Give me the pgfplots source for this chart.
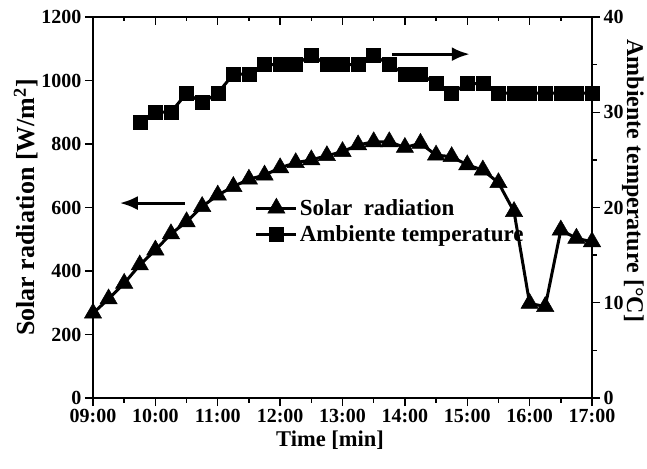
\documentclass[border=0pt]{standalone}
\usepackage{fontspec}
\setmainfont{Liberation Serif}
\usepackage{pgfplots}
\pgfplotsset{compat=1.18}
\usetikzlibrary{arrows.meta}

\pgfplotsset{
  common/.style={
    scale only axis, width=499pt, height=381pt,
    at={(0,0)}, anchor=south west,
    xmin=9, xmax=17,
    major tick length=8pt, minor tick length=4.5pt,
    every tick/.style={black, line width=1.4pt},
    axis line style={line width=1.5pt},
    tick label style={font=\fontsize{20}{22}\selectfont\bfseries},
    /pgf/number format/assume math mode=true,
    /pgf/number format/1000 sep={},
    clip=false,
  },
  solar/.style={black, line width=3pt, mark=triangle*, mark size=10pt, mark options={solid, line width=0.5pt}},
  temp/.style={black, line width=3pt, mark=square*, mark size=7pt, mark options={solid, line width=0.5pt}},
}

\begin{document}
\begin{tikzpicture}
% left axis: solar radiation
\begin{axis}[common,
    ymin=0, ymax=1200,
    axis x line*=bottom, axis y line*=left,
    tick align=outside,
    xtick={9,10,...,17},
    xticklabels={09:00,10:00,11:00,12:00,13:00,14:00,15:00,16:00,17:00},
    minor x tick num=1,
    ytick={0,200,...,1200},
    xlabel={Time [min]},
    ylabel={Solar radiation [W/m$^{\mathbf{2}}$]},
    xlabel style={at={(axis description cs:0.475,-0.11)}, anchor=center, font=\fontsize{22.5}{24}\selectfont\bfseries},
    ylabel style={at={(axis description cs:-0.134,0.5)}, anchor=center, font=\fontsize{26}{28}\selectfont\bfseries},
]
\addplot[solar] coordinates {
(9,267)(9.25,312)(9.5,361)(9.75,419)(10,466)(10.25,517)(10.5,555)(10.75,603)
(11,639)(11.25,666)(11.5,689)(11.75,702)(12,725)(12.25,741)(12.5,750)(12.75,763)
(13,776)(13.25,797)(13.5,807)(13.75,807)(14,789)(14.25,802)(14.5,765)(14.75,760)
(15,734)(15.25,718)(15.5,678)(15.75,587)(16,298)(16.25,288)(16.5,529)(16.75,503)(17,492)
};
\draw[line width=3pt, -{Latex[length=18pt,width=14pt]}] (axis cs:10.47,614) -- (axis cs:9.43,614);
\end{axis}

% right axis: ambient temperature
\begin{axis}[common,
    ymin=0, ymax=40,
    axis x line=none, axis y line*=right,
    tick align=outside,
    ytick={0,10,...,40},
    minor y tick num=1,
    ylabel={Ambiente temperature [\textdegree C]},
    ylabel style={at={(axis description cs:1.082,0.57)}, anchor=center, rotate=180, font=\fontsize{24}{26}\selectfont\bfseries},
    legend style={draw=none, fill=none, at={(axis description cs:0.318,0.532)}, anchor=north west,
      font=\fontsize{23}{25}\selectfont\bfseries, row sep=5pt},
    legend cell align=left,
    legend image code/.code={
      \draw[#1, mark repeat=2, mark phase=2] plot coordinates {(0pt,0pt) (20pt,0pt) (40pt,0pt)};},
]
\addlegendimage{solar}
\addlegendentry{Solar\ \ radiation}
\addplot[temp] coordinates {
(9.75,29)(10,30)(10.25,30)(10.5,32)(10.75,31)(11,32)(11.25,34)(11.5,34)
(11.75,35)(12,35)(12.25,35)(12.5,36)(12.75,35)(13,35)(13.25,35)(13.5,36)
(13.75,35)(14,34)(14.25,34)(14.5,33)(14.75,32)(15,33)(15.25,33)(15.5,32)
(15.75,32)(16,32)(16.25,32)(16.5,32)(16.75,32)(17,32)
};
\addlegendentry{Ambiente temperature}
\draw[line width=3pt, -{Latex[length=18pt,width=14pt]}] (axis cs:13.79,36.1) -- (axis cs:15.04,36.1);
\end{axis}

% top axis: inward ticks only
\begin{axis}[common,
    ymin=0, ymax=1,
    axis x line*=top, axis y line=none,
    tick align=inside,
    xtick={9,10,...,17}, xticklabels={},
    minor x tick num=1,
]
\end{axis}
\pgfresetboundingbox
\path (-93pt,-70pt) rectangle (554pt,398pt);
\end{tikzpicture}
\end{document}
